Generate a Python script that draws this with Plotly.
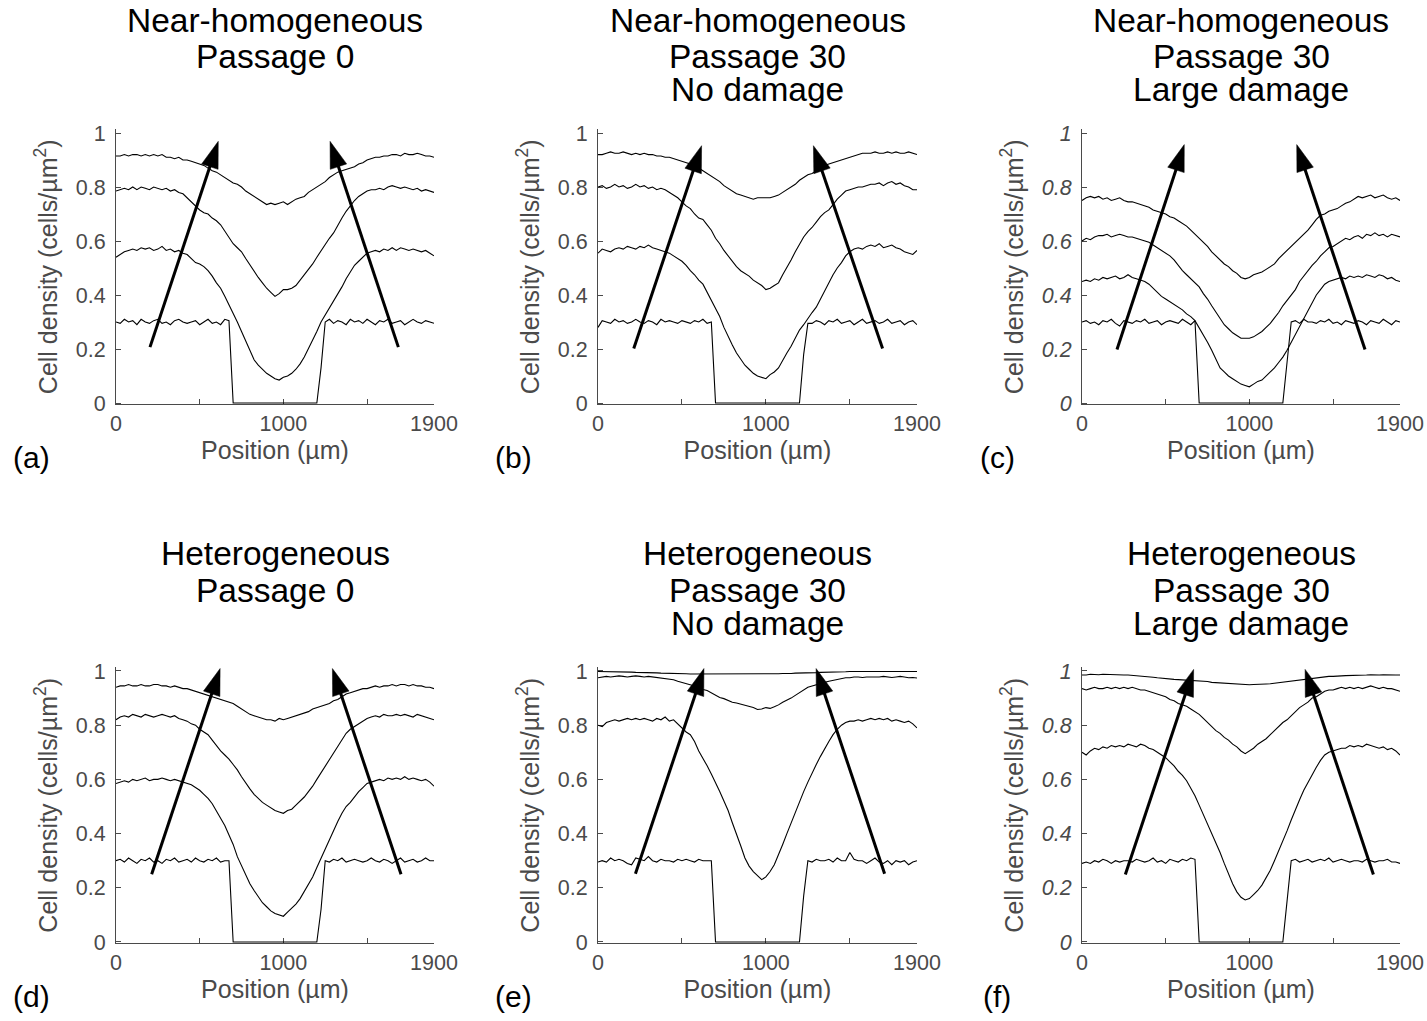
import plotly.graph_objects as go

# ---------------- data ----------------
position = list(range(0, 1901, 25))  # µm, 77 sample positions

# Panel (a): Near-homogeneous, Passage 0
a_t0 = [.300,.295,.310,.300,.305,.290,.310,.300,.295,.305,.310,
        .295,.300,.290,.305,.310,.300,.295,.300,.305,.290,.300,
        .310,.295,.300,.290,.310,.305,0,0,0,0,0,
        0,0,0,0,0,0,0,0,0,0,0,
        0,0,0,0,0,.130,.300,.310,.295,.305,.300,
        .290,.310,.300,.305,.295,.310,.300,.290,.305,.300,.310,
        .295,.300,.305,.290,.300,.310,.300,.295,.305,.300,.295]
a_t1 = [.540,.550,.560,.565,.570,.565,.575,.570,.575,.565,.570,
        .580,.565,.570,.560,.565,.555,.550,.535,.520,.515,.505,
        .490,.470,.445,.425,.395,.365,.330,.300,.265,.230,.190,
        .160,.140,.125,.110,.100,.090,.085,.095,.100,.110,.125,
        .145,.170,.200,.235,.265,.300,.325,.350,.375,.400,.430,
        .460,.485,.510,.525,.540,.555,.560,.565,.560,.570,.565,
        .575,.565,.575,.570,.565,.570,.565,.560,.565,.555,.545]
a_t2 = [.785,.790,.795,.790,.800,.790,.800,.795,.790,.800,.795,
        .790,.795,.785,.790,.780,.775,.760,.745,.730,.715,.705,
        .700,.685,.675,.660,.635,.610,.590,.575,.560,.535,.510,
        .490,.465,.445,.425,.410,.395,.405,.420,.420,.425,.435,
        .455,.475,.495,.515,.540,.565,.585,.610,.630,.660,.685,
        .710,.730,.750,.765,.775,.785,.790,.790,.795,.790,.800,
        .805,.800,.795,.800,.795,.790,.795,.785,.790,.785,.780]
a_t3 = [.915,.915,.920,.915,.920,.920,.915,.920,.915,.920,.915,
        .920,.910,.910,.905,.910,.900,.900,.895,.890,.885,.880,
        .870,.860,.855,.845,.835,.825,.815,.810,.800,.785,.775,
        .765,.755,.745,.735,.740,.735,.740,.745,.735,.745,.755,
        .760,.765,.780,.790,.800,.810,.820,.835,.845,.855,.860,
        .865,.870,.875,.885,.890,.900,.905,.910,.910,.915,.915,
        .920,.920,.915,.925,.920,.920,.925,.920,.915,.915,.910]

# Panel (b): Near-homogeneous, Passage 30, No damage
b_t0 = [.280,.305,.300,.295,.310,.300,.305,.295,.300,.310,.300,
        .295,.305,.300,.290,.310,.300,.305,.300,.295,.305,.300,
        .295,.305,.300,.310,.295,.300,0,0,0,0,0,
        0,0,0,0,0,0,0,0,0,0,0,
        0,0,0,0,0,.180,.295,.295,.305,.300,.290,
        .305,.300,.310,.295,.300,.305,.290,.300,.310,.295,.300,
        .305,.295,.300,.310,.295,.300,.305,.290,.300,.305,.290]
b_t1 = [.555,.570,.565,.560,.570,.575,.570,.580,.575,.570,.580,
        .575,.585,.575,.570,.565,.560,.555,.545,.535,.525,.510,
        .490,.475,.455,.440,.410,.380,.350,.320,.280,.245,.215,
        .185,.160,.140,.125,.110,.100,.095,.090,.105,.115,.130,
        .160,.185,.210,.240,.270,.290,.315,.335,.355,.385,.415,
        .450,.475,.500,.520,.545,.560,.570,.575,.570,.580,.585,
        .580,.590,.575,.580,.585,.575,.570,.560,.555,.550,.565]
b_t2 = [.800,.805,.795,.800,.810,.800,.805,.795,.800,.810,.800,
        .805,.795,.800,.790,.795,.790,.780,.770,.760,.745,.730,
        .720,.700,.685,.680,.660,.640,.610,.590,.565,.545,.525,
        .505,.490,.480,.470,.455,.445,.435,.420,.425,.435,.445,
        .475,.500,.530,.560,.590,.615,.635,.650,.670,.690,.705,
        .715,.735,.755,.770,.785,.790,.795,.800,.800,.805,.810,
        .810,.815,.805,.815,.820,.810,.815,.805,.800,.790,.790]
b_t3 = [.920,.920,.925,.930,.925,.925,.930,.925,.920,.925,.920,
        .925,.920,.920,.915,.915,.910,.910,.905,.900,.895,.890,
        .885,.875,.870,.860,.850,.840,.830,.820,.805,.795,.785,
        .775,.770,.765,.760,.755,.760,.760,.760,.760,.765,.770,
        .780,.790,.800,.810,.825,.835,.845,.850,.860,.870,.880,
        .885,.890,.895,.900,.905,.910,.915,.920,.925,.925,.925,
        .930,.925,.925,.930,.925,.930,.925,.925,.930,.925,.920]

# Panel (c): Near-homogeneous, Passage 30, Large damage
c_t0 = [.300,.305,.295,.300,.290,.305,.300,.310,.295,.285,.305,
        .300,.295,.305,.300,.310,.295,.300,.305,.290,.300,.305,
        .300,.295,.310,.300,.290,.305,0,0,0,0,0,
        0,0,0,0,0,0,0,0,0,0,0,
        0,0,0,0,0,.150,.300,.305,.295,.310,.300,
        .300,.295,.305,.300,.310,.295,.300,.290,.305,.300,.295,
        .305,.300,.290,.305,.300,.295,.310,.300,.290,.305,.300]
c_t1 = [.450,.455,.450,.460,.455,.465,.460,.465,.470,.460,.465,
        .475,.465,.460,.455,.450,.440,.425,.410,.395,.385,.375,
        .365,.355,.345,.330,.320,.305,.280,.255,.225,.195,.160,
        .130,.115,.100,.090,.080,.070,.065,.060,.070,.080,.085,
        .100,.115,.130,.150,.170,.195,.225,.255,.285,.315,.345,
        .375,.400,.420,.440,.450,.455,.460,.465,.460,.470,.465,
        .470,.465,.475,.470,.465,.475,.470,.460,.465,.455,.450]
c_t2 = [.600,.610,.605,.615,.620,.620,.625,.615,.620,.625,.620,
        .615,.615,.610,.605,.600,.595,.585,.575,.565,.555,.545,
        .530,.510,.490,.475,.460,.445,.430,.405,.385,.360,.335,
        .310,.290,.275,.260,.250,.240,.240,.240,.245,.255,.265,
        .280,.295,.315,.335,.360,.380,.400,.420,.450,.470,.490,
        .510,.525,.545,.560,.575,.580,.590,.600,.610,.605,.615,
        .620,.610,.625,.620,.630,.620,.625,.615,.625,.620,.615]
c_t3 = [.750,.760,.765,.760,.765,.755,.760,.750,.755,.760,.750,
        .745,.745,.740,.735,.730,.725,.715,.710,.705,.700,.690,
        .685,.675,.665,.655,.640,.625,.610,.595,.580,.560,.545,
        .530,.515,.505,.490,.480,.465,.460,.465,.475,.480,.485,
        .495,.505,.515,.535,.550,.565,.580,.595,.610,.625,.640,
        .660,.680,.695,.700,.710,.715,.720,.730,.740,.745,.755,
        .765,.760,.765,.770,.760,.765,.770,.760,.755,.760,.750]

# Panel (d): Heterogeneous, Passage 0
d_t0 = [.300,.305,.295,.310,.300,.290,.305,.300,.310,.295,.300,
        .290,.305,.300,.310,.295,.300,.305,.295,.310,.300,.295,
        .305,.300,.310,.295,.300,.300,0,0,0,0,0,
        0,0,0,0,0,0,0,0,0,0,0,
        0,0,0,0,0,.120,.300,.295,.305,.300,.310,
        .295,.300,.305,.300,.295,.300,.310,.300,.295,.305,.300,
        .290,.300,.310,.295,.300,.305,.295,.300,.310,.300,.300]
d_t1 = [.585,.590,.595,.590,.600,.595,.600,.605,.595,.600,.600,
        .605,.600,.595,.600,.595,.590,.585,.580,.570,.560,.545,
        .530,.510,.485,.460,.430,.395,.360,.315,.280,.250,.215,
        .190,.165,.145,.130,.115,.105,.100,.095,.110,.125,.140,
        .160,.185,.210,.240,.275,.310,.345,.380,.415,.445,.475,
        .500,.515,.535,.555,.570,.585,.590,.595,.600,.595,.605,
        .600,.605,.600,.610,.600,.605,.600,.595,.600,.590,.575]
d_t2 = [.820,.830,.835,.830,.840,.835,.830,.840,.835,.830,.835,
        .840,.835,.830,.835,.825,.820,.815,.805,.800,.785,.775,
        .765,.745,.725,.705,.690,.675,.655,.635,.610,.585,.565,
        .545,.530,.515,.505,.495,.485,.480,.475,.485,.490,.505,
        .520,.535,.555,.575,.600,.625,.645,.670,.695,.720,.745,
        .770,.785,.795,.805,.815,.825,.830,.835,.830,.840,.835,
        .835,.840,.835,.840,.835,.830,.840,.835,.830,.825,.820]
d_t3 = [.940,.945,.945,.950,.945,.945,.950,.945,.945,.950,.950,
        .945,.945,.940,.945,.940,.935,.935,.930,.925,.920,.915,
        .910,.905,.900,.895,.890,.885,.880,.870,.860,.850,.840,
        .835,.830,.825,.820,.820,.815,.825,.820,.825,.830,.835,
        .840,.845,.850,.860,.865,.870,.875,.880,.890,.895,.905,
        .915,.920,.925,.930,.935,.935,.940,.945,.940,.945,.945,
        .950,.945,.950,.950,.945,.950,.945,.945,.940,.940,.935]

# Panel (e): Heterogeneous, Passage 30, No damage
e_t0 = [.295,.300,.295,.310,.300,.305,.300,.290,.285,.310,.305,
        .300,.315,.300,.295,.305,.300,.300,.295,.305,.300,.305,
        .300,.295,.305,.300,.300,.300,0,0,0,0,0,
        0,0,0,0,0,0,0,0,0,0,0,
        0,0,0,0,0,.170,.300,.295,.305,.300,.300,
        .305,.295,.310,.300,.300,.330,.305,.300,.300,.290,.300,
        .310,.295,.290,.300,.285,.300,.295,.300,.285,.295,.300]
e_t1 = [.800,.795,.810,.815,.820,.815,.820,.825,.820,.825,.820,
        .825,.820,.815,.825,.820,.830,.815,.820,.805,.790,.775,
        .765,.740,.705,.680,.650,.620,.590,.555,.520,.485,.440,
        .400,.355,.310,.280,.260,.245,.230,.240,.260,.285,.320,
        .360,.400,.440,.475,.515,.555,.590,.625,.655,.685,.715,
        .740,.765,.785,.800,.810,.815,.815,.820,.815,.820,.825,
        .820,.825,.820,.825,.815,.820,.815,.810,.815,.805,.790]
e_t2 = [.975,.978,.980,.978,.980,.982,.980,.978,.980,.982,.980,
        .978,.980,.978,.975,.975,.972,.970,.968,.962,.958,.955,
        .950,.945,.940,.932,.928,.920,.910,.902,.898,.892,.885,
        .882,.878,.872,.868,.865,.858,.860,.865,.862,.868,.875,
        .885,.892,.900,.910,.920,.930,.940,.945,.950,.955,.958,
        .962,.965,.970,.972,.975,.975,.978,.978,.976,.978,.978,
        .976,.978,.980,.978,.976,.978,.980,.978,.975,.976,.974]
e_t3 = [.998,.998,.998,.997,.998,.997,.997,.996,.996,.995,.995,
        .994,.994,.993,.993,.992,.992,.991,.991,.990,.990,.990,
        .989,.989,.988,.989,.988,.988,.989,.988,.988,.989,.989,
        .988,.988,.988,.989,.988,.988,.989,.990,.989,.990,.990,
        .991,.990,.991,.992,.992,.993,.993,.994,.994,.995,.995,
        .996,.996,.997,.997,.997,.998,.998,.998,.998,.998,.998,
        .998,.998,.998,.998,.998,.998,.998,.998,.998,.998,.998]

# Panel (f): Heterogeneous, Passage 30, Large damage
f_t0 = [.290,.295,.290,.300,.295,.305,.300,.290,.300,.295,.300,
        .300,.295,.305,.300,.295,.300,.310,.295,.300,.290,.305,
        .300,.295,.305,.300,.310,.305,0,0,0,0,0,
        0,0,0,0,0,0,0,0,0,0,0,
        0,0,0,0,0,.150,.300,.305,.295,.300,.305,
        .295,.300,.305,.300,.310,.295,.300,.305,.300,.295,.300,
        .300,.295,.305,.300,.295,.300,.300,.305,.295,.295,.290]
f_t1 = [.700,.690,.705,.715,.710,.720,.715,.725,.720,.725,.720,
        .730,.725,.720,.730,.725,.715,.710,.700,.690,.680,.665,
        .650,.630,.615,.595,.570,.540,.505,.470,.440,.405,.370,
        .330,.290,.250,.215,.185,.165,.155,.160,.175,.190,.210,
        .235,.265,.300,.335,.375,.410,.450,.490,.525,.560,.590,
        .620,.645,.670,.690,.700,.705,.710,.715,.715,.725,.720,
        .725,.720,.730,.725,.720,.715,.720,.710,.715,.705,.690]
f_t2 = [.935,.930,.935,.940,.935,.935,.940,.935,.940,.935,.940,
        .935,.940,.935,.930,.930,.925,.920,.915,.910,.905,.895,
        .890,.880,.875,.870,.860,.850,.840,.825,.810,.795,.780,
        .770,.755,.745,.730,.720,.705,.695,.705,.715,.730,.740,
        .750,.765,.780,.795,.810,.820,.835,.850,.865,.875,.885,
        .900,.905,.915,.925,.930,.930,.935,.940,.935,.940,.935,
        .940,.935,.940,.945,.940,.935,.940,.935,.935,.930,.925]
f_t3 = [.985,.985,.988,.987,.986,.988,.987,.986,.987,.986,.985,
        .985,.984,.983,.982,.980,.979,.977,.975,.973,.972,.970,
        .969,.968,.967,.966,.966,.965,.963,.962,.961,.958,.957,
        .956,.955,.953,.952,.950,.950,.950,.949,.950,.950,.951,
        .952,.953,.955,.957,.958,.960,.962,.964,.966,.968,.970,
        .972,.975,.978,.978,.980,.980,.982,.982,.983,.983,.984,
        .985,.984,.985,.986,.985,.985,.986,.985,.986,.985,.985]

# Arrows (time direction): [tail_x, tail_y, tip_x, tip_y]
a_arrows = [[203, 0.207, 611, 0.969], [1687, 0.207, 1279, 0.969]]
b_arrows = [[213, 0.202, 617, 0.953], [1695, 0.202, 1283, 0.953]]
c_arrows = [[209, 0.198, 611, 0.957], [1691, 0.198, 1283, 0.957]]
d_arrows = [[213, 0.250, 622, 1.009], [1703, 0.250, 1293, 1.009]]
e_arrows = [[223, 0.252, 631, 1.009], [1707, 0.252, 1299, 1.009]]
f_arrows = [[259, 0.249, 667, 1.006], [1741, 0.249, 1333, 1.006]]

titles = [["Near-homogeneous", "Passage 0"],
          ["Near-homogeneous", "Passage 30", "No damage"],
          ["Near-homogeneous", "Passage 30", "Large damage"],
          ["Heterogeneous", "Passage 0"],
          ["Heterogeneous", "Passage 30", "No damage"],
          ["Heterogeneous", "Passage 30", "Large damage"]]
panel_labels = ["(a)", "(b)", "(c)", "(d)", "(e)", "(f)"]
italic_ticks = [False, False, True, False, False, True]
panel_curves = [[a_t0, a_t1, a_t2, a_t3], [b_t0, b_t1, b_t2, b_t3],
                [c_t0, c_t1, c_t2, c_t3], [d_t0, d_t1, d_t2, d_t3],
                [e_t0, e_t1, e_t2, e_t3], [f_t0, f_t1, f_t2, f_t3]]
panel_arrows = [a_arrows, b_arrows, c_arrows, d_arrows, e_arrows, f_arrows]

x_tickvals = [0, 1000, 1900]
x_ticktext = ["0", "1000", "1900"]
x_minor_tickvals = [500, 1500]
y_tickvals = [0, 0.2, 0.4, 0.6, 0.8, 1]
y_ticktext = ["0", "0.2", "0.4", "0.6", "0.8", "1"]
x_title = "Position (µm)"
y_title = "Cell density (cells/µm<sup>2</sup>)"

# ---------------- layout geometry (pixels) ----------------
W, H = 1427, 1021
col_left = [116, 598, 1082]
col_right = [434, 917, 1400]
row_y1 = [133, 671]      # pixel row of y = 1
row_y0 = [403, 942]      # pixel row of y = 0
y_lo, y_hi = -0.004, 1.013
title_baselines = [[32, 68.5, 100.5], [565, 601.7, 635]]
FONT = "Liberation Sans, Arial, Helvetica, sans-serif"
GRAY = "#4a4a4a"
TITLE_FS = 33.5
TICK_FS = 21.5

fig = go.Figure()
annotations = []
layout = dict(width=W, height=H, margin=dict(l=0, r=0, t=0, b=0),
              paper_bgcolor="white", plot_bgcolor="white",
              showlegend=False, font=dict(family=FONT, color=GRAY))

for i in range(6):
    r, c = divmod(i, 3)
    n = "" if i == 0 else str(i + 1)
    xa, ya = "x" + n, "y" + n
    L, R = col_left[c], col_right[c]
    p1, p0 = row_y1[r], row_y0[r]
    ppu = (p0 - p1)  # pixels per unit
    B = p0 - y_lo * ppu
    T = p1 - (y_hi - 1) * ppu

    layout["xaxis" + n] = dict(
        domain=[L / W, R / W], range=[0, 1900], anchor=ya,
        tickvals=x_tickvals, ticktext=x_ticktext,
        ticks="inside", ticklen=5, tickwidth=1, tickcolor=GRAY,
        minor=dict(tickvals=x_minor_tickvals, ticks="inside", ticklen=5,
                   tickwidth=1, tickcolor=GRAY),
        showline=True, linecolor=GRAY, linewidth=1,
        showgrid=False, zeroline=False, layer="below traces",
        ticklabelstandoff=0, automargin=False,
        title=dict(text=x_title, standoff=6,
                   font=dict(family=FONT, size=25, color=GRAY)),
        tickfont=dict(family=FONT, size=TICK_FS, color=GRAY))
    layout["yaxis" + n] = dict(
        domain=[1 - B / H, 1 - T / H], range=[y_lo, y_hi], anchor=xa,
        tickvals=y_tickvals, ticktext=y_ticktext,
        ticks="inside", ticklen=5, tickwidth=1, tickcolor=GRAY,
        showline=True, linecolor=GRAY, linewidth=1,
        showgrid=False, zeroline=False, layer="below traces",
        ticklabelstandoff=5, automargin=False,
        title=dict(text=y_title, standoff=11,
                   font=dict(family=FONT, size=25, color=GRAY)),
        tickfont=dict(family=FONT, size=TICK_FS, color=GRAY,
                      style="italic" if italic_ticks[i] else "normal"))

    for curve in panel_curves[i]:
        fig.add_trace(go.Scatter(x=position, y=curve, mode="lines",
                                 line=dict(color="black", width=1.1),
                                 xaxis=xa, yaxis=ya, hoverinfo="skip"))

    for tx, ty, hx, hy in panel_arrows[i]:
        fig.add_trace(go.Scatter(
            x=[tx, hx], y=[ty, hy], mode="lines+markers",
            line=dict(color="black", width=3),
            marker=dict(symbol=["circle", "arrow"], size=[3, 28],
                        angleref="previous", color="black", opacity=1,
                        line=dict(width=0.5, color="black")),
            cliponaxis=False, xaxis=xa, yaxis=ya, hoverinfo="skip"))

    cx = (L + R) / 2
    for k, line in enumerate(titles[i]):
        yb = title_baselines[r][k]
        annotations.append(dict(
            text=line, xref="paper", yref="paper", x=cx / W,
            y=1 - (yb - 11.5) / H, xanchor="center", yanchor="middle",
            showarrow=False, font=dict(family=FONT, size=TITLE_FS, color="black")))

    annotations.append(dict(
        text=panel_labels[i], xref="paper", yref="paper",
        x=(L - 85) / W, y=1 - (p0 + 54) / H, xanchor="center", yanchor="middle",
        showarrow=False, font=dict(family=FONT, size=30, color="black")))

layout["annotations"] = annotations
fig.update_layout(**layout)
fig.write_html("out.html")
